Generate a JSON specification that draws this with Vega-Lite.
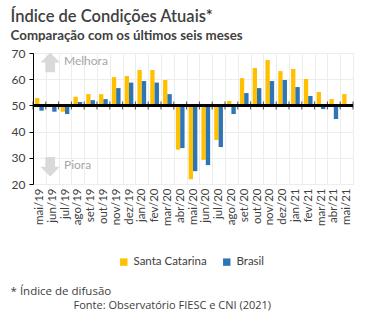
{
  "$schema": "https://vega.github.io/schema/vega-lite/v6.json",
  "background": "white",
  "padding": {"left": 10, "top": 8, "right": 5, "bottom": 5},
  "title": {
    "text": "Índice de Condições Atuais*",
    "subtitle": "Comparação com os últimos seis meses",
    "anchor": "start",
    "frame": "bounds",
    "font": "Lato",
    "fontSize": 16.5,
    "fontWeight": 600,
    "color": "#404040",
    "subtitleFont": "Lato",
    "subtitleFontSize": 13.3,
    "subtitleFontWeight": "bold",
    "subtitleColor": "#404040",
    "subtitlePadding": 4,
    "offset": 4
  },
  "datasets": {
    "main": [
      {"mes": "mai/19", "serie": "Santa Catarina", "valor": 52.8}, {"mes": "mai/19", "serie": "Brasil", "valor": 48.0},
      {"mes": "jun/19", "serie": "Santa Catarina", "valor": 50.5}, {"mes": "jun/19", "serie": "Brasil", "valor": 47.6},
      {"mes": "jul/19", "serie": "Santa Catarina", "valor": 47.6}, {"mes": "jul/19", "serie": "Brasil", "valor": 46.7},
      {"mes": "ago/19", "serie": "Santa Catarina", "valor": 53.3}, {"mes": "ago/19", "serie": "Brasil", "valor": 51.3},
      {"mes": "set/19", "serie": "Santa Catarina", "valor": 54.3}, {"mes": "set/19", "serie": "Brasil", "valor": 52.0},
      {"mes": "out/19", "serie": "Santa Catarina", "valor": 54.3}, {"mes": "out/19", "serie": "Brasil", "valor": 52.4},
      {"mes": "nov/19", "serie": "Santa Catarina", "valor": 60.8}, {"mes": "nov/19", "serie": "Brasil", "valor": 56.6},
      {"mes": "dez/19", "serie": "Santa Catarina", "valor": 61.2}, {"mes": "dez/19", "serie": "Brasil", "valor": 58.7},
      {"mes": "jan/20", "serie": "Santa Catarina", "valor": 63.5}, {"mes": "jan/20", "serie": "Brasil", "valor": 59.3},
      {"mes": "fev/20", "serie": "Santa Catarina", "valor": 63.5}, {"mes": "fev/20", "serie": "Brasil", "valor": 58.7},
      {"mes": "mar/20", "serie": "Santa Catarina", "valor": 59.7}, {"mes": "mar/20", "serie": "Brasil", "valor": 54.3},
      {"mes": "abr/20", "serie": "Santa Catarina", "valor": 33.1}, {"mes": "abr/20", "serie": "Brasil", "valor": 33.7},
      {"mes": "mai/20", "serie": "Santa Catarina", "valor": 21.8}, {"mes": "mai/20", "serie": "Brasil", "valor": 24.9},
      {"mes": "jun/20", "serie": "Santa Catarina", "valor": 29.2}, {"mes": "jun/20", "serie": "Brasil", "valor": 27.2},
      {"mes": "jul/20", "serie": "Santa Catarina", "valor": 36.8}, {"mes": "jul/20", "serie": "Brasil", "valor": 34.1},
      {"mes": "ago/20", "serie": "Santa Catarina", "valor": 51.7}, {"mes": "ago/20", "serie": "Brasil", "valor": 46.7},
      {"mes": "set/20", "serie": "Santa Catarina", "valor": 60.4}, {"mes": "set/20", "serie": "Brasil", "valor": 54.7},
      {"mes": "out/20", "serie": "Santa Catarina", "valor": 64.3}, {"mes": "out/20", "serie": "Brasil", "valor": 56.6},
      {"mes": "nov/20", "serie": "Santa Catarina", "valor": 67.3}, {"mes": "nov/20", "serie": "Brasil", "valor": 59.3},
      {"mes": "dez/20", "serie": "Santa Catarina", "valor": 63.1}, {"mes": "dez/20", "serie": "Brasil", "valor": 59.7},
      {"mes": "jan/21", "serie": "Santa Catarina", "valor": 63.9}, {"mes": "jan/21", "serie": "Brasil", "valor": 57.0},
      {"mes": "fev/21", "serie": "Santa Catarina", "valor": 60.1}, {"mes": "fev/21", "serie": "Brasil", "valor": 53.6},
      {"mes": "mar/21", "serie": "Santa Catarina", "valor": 55.1}, {"mes": "mar/21", "serie": "Brasil", "valor": 48.6},
      {"mes": "abr/21", "serie": "Santa Catarina", "valor": 52.4}, {"mes": "abr/21", "serie": "Brasil", "valor": 44.8},
      {"mes": "mai/21", "serie": "Santa Catarina", "valor": 54.3}, {"mes": "mai/21", "serie": "Brasil", "valor": 50.5}
    ],
    "setas": [
      {"mes": "jun/19", "v": 66.4, "dir": "up"},
      {"mes": "jun/19", "v": 26.6, "dir": "down"}
    ],
    "rotulos": [
      {"mes": "jul/19", "v": 66.8, "label": "Melhora"},
      {"mes": "jul/19", "v": 27.2, "label": "Piora"}
    ]
  },
  "vconcat": [
    {
      "title": {
        "text": "Fonte: Observatório FIESC e CNI (2021)",
        "orient": "bottom",
        "anchor": "start",
        "frame": "bounds",
        "font": "Open Sans",
        "fontSize": 11,
        "fontWeight": "normal",
        "color": "#404040",
        "offset": 3,
        "dx": 63
      },
      "vconcat": [
        {
          "title": {
            "text": "* Índice de difusão",
            "orient": "bottom",
            "anchor": "start",
            "frame": "bounds",
            "font": "Open Sans",
            "fontSize": 11.5,
            "fontWeight": "normal",
            "color": "#404040",
            "offset": 17
          },
          "resolve": {"legend": {"color": "independent", "shape": "independent"}},
          "vconcat": [
            {
              "width": 320,
              "height": 131,
              "layer": [
                {
                  "data": {"name": "main"},
                  "mark": {"type": "bar"},
                  "encoding": {
                    "x": {
                      "field": "mes", "type": "nominal", "sort": null,
                      "scale": {"paddingInner": 0, "paddingOuter": 0},
                      "axis": {
                        "title": null, "labelAngle": -90, "labelFont": "Lato", "labelFontSize": 11.5,
                        "labelColor": "#404040", "ticks": false, "domain": false, "grid": true,
                        "gridColor": "#EDEDED", "tickBand": "extent", "labelPadding": 4, "labelOverlap": false,
                        "labelSeparation": 0
                      }
                    },
                    "xOffset": {
                      "field": "serie", "type": "nominal",
                      "scale": {"domain": ["Santa Catarina", "Brasil"], "paddingOuter": 0.47, "paddingInner": 0}
                    },
                    "y": {
                      "field": "valor", "type": "quantitative",
                      "scale": {"domain": [20, 70], "nice": false},
                      "axis": {
                        "title": null, "values": [20, 30, 40, 50, 60, 70], "tickCount": 10, "grid": true, "gridColor": "#EDEDED",
                        "domainColor": "black", "tickColor": "black", "tickSize": 4, "labelPadding": 4,
                        "labelFont": "Lato", "labelFontSize": 12, "labelColor": "#404040", "labelOverlap": false,
                        "labelSeparation": 0
                      }
                    },
                    "y2": {"datum": 50},
                    "color": {
                      "field": "serie", "type": "nominal",
                      "scale": {"domain": ["Santa Catarina", "Brasil"], "range": ["#FFC000", "#2E75B6"]},
                      "legend": {
                        "title": null, "orient": "none", "legendX": 85, "legendY": 203,
                        "direction": "horizontal", "symbolType": "square",
                        "symbolSize": 55, "symbolStrokeWidth": 0, "labelFont": "Lato", "labelFontSize": 11.5,
                        "labelColor": "#404040", "columnPadding": 14
                      }
                    }
                  }
                },
                {
                  "data": {"name": "main"},
                  "mark": {"type": "rule", "color": "black", "strokeWidth": 1.5},
                  "encoding": {"y": {"datum": 50}}
                },
                {
                  "data": {"name": "main"},
                  "transform": [{"filter": "datum.serie === 'Santa Catarina'"}],
                  "mark": {"type": "tick", "orient": "vertical", "color": "black", "size": 8, "thickness": 1},
                  "encoding": {
                    "x": {"field": "mes", "type": "nominal", "sort": null, "bandPosition": 0},
                    "y": {"datum": 50}
                  }
                },
                {
                  "data": {"name": "main"},
                  "transform": [{"filter": "datum.serie === 'Santa Catarina' && datum.mes === 'mai/21'"}],
                  "mark": {"type": "tick", "orient": "vertical", "color": "black", "size": 8, "thickness": 1},
                  "encoding": {
                    "x": {"field": "mes", "type": "nominal", "sort": null, "bandPosition": 1},
                    "y": {"datum": 50}
                  }
                },
                {
                  "data": {"name": "setas"},
                  "mark": {"type": "point", "filled": true, "opacity": 1, "color": "#D9D9D9", "size": 380, "xOffset": -2},
                  "encoding": {
                    "x": {"field": "mes", "type": "nominal", "sort": null},
                    "y": {"field": "v", "type": "quantitative"},
                    "shape": {
                      "field": "dir", "type": "nominal",
                      "scale": {"domain": ["up", "down"], "range": ["M0,-1L1,0L0.5,0L0.5,1L-0.5,1L-0.5,0L-1,0Z", "M0,1L1,0L0.5,0L0.5,-1L-0.5,-1L-0.5,0L-1,0Z"]},
                      "legend": null
                    }
                  }
                },
                {
                  "data": {"name": "rotulos"},
                  "mark": {"type": "text", "align": "left", "baseline": "middle", "dx": -1, "font": "Lato", "fontSize": 12, "color": "#A6A6A6"},
                  "encoding": {
                    "x": {"field": "mes", "type": "nominal", "sort": null},
                    "y": {"field": "v", "type": "quantitative"},
                    "text": {"field": "label"}
                  }
                }
              ]
            }
          ]
        }
      ]
    }
  ],
  "config": {
    "view": {"stroke": "#EDEDED"},
    "concat": {"spacing": 0},
    "axis": {"labelOverlap": false}
  }
}
